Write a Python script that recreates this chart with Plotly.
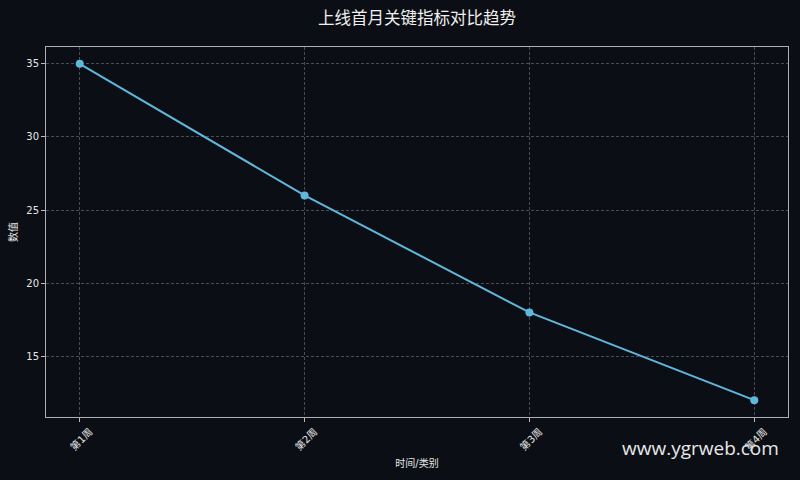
import plotly.graph_objects as go

# 数据
weeks = ["第1周", "第2周", "第3周", "第4周"]
values = [35, 26, 18, 12]

BG = "#0b0e14"
FONT = "DejaVu Sans, Noto Sans CJK SC, sans-serif"

fig = go.Figure()

fig.add_trace(go.Scatter(
    x=list(range(len(weeks))),
    y=values,
    mode="lines+markers",
    line=dict(color="#5fb8dc", width=2),
    marker=dict(size=8, color="#5fb8dc"),
    showlegend=False,
))

fig.update_layout(
    width=800,
    height=480,
    paper_bgcolor=BG,
    plot_bgcolor=BG,
    font=dict(family=FONT, color="#e6e6e6", size=10),
    margin=dict(l=46, r=12, t=47, b=63),
    title=dict(
        text="上线首月关键指标对比趋势",
        xref="paper", x=0.5, xanchor="center",
        y=0.962, yanchor="middle",
        font=dict(family="Noto Sans CJK SC, sans-serif", size=16.5, color="#f0f0f0"),
    ),
    xaxis=dict(
        range=[-0.15, 3.15],
        tickmode="array",
        tickvals=list(range(len(weeks))),
        ticktext=weeks,
        tickangle=-45,
        ticklabelshift=10,
        ticks="outside", ticklen=4, tickcolor="#bbbbbb",
        showgrid=True, gridcolor="#4a4d55", griddash="3px,2px", gridwidth=1,
        showline=True, linecolor="#b0b0b0", linewidth=1, mirror=True,
        zeroline=False,
        title=dict(text="时间/类别", font=dict(size=10), standoff=8),
    ),
    yaxis=dict(
        range=[10.85, 36.15],
        tickvals=[15, 20, 25, 30, 35],
        ticks="outside", ticklen=4, tickcolor="#bbbbbb",
        showgrid=True, gridcolor="#4a4d55", griddash="3px,2px", gridwidth=1,
        showline=True, linecolor="#b0b0b0", linewidth=1, mirror=True,
        zeroline=False,
        title=dict(text="数值", font=dict(size=10), standoff=6),
    ),
)

# 水印
fig.add_annotation(
    text="www.ygrweb.com",
    xref="paper", yref="paper",
    x=0.99, y=-0.085, xanchor="right", yanchor="middle",
    showarrow=False,
    font=dict(family="Open Sans, Noto Sans, sans-serif", size=19, color="#e8e8e8"),
)

fig.write_html(
    "out.html",
    config={"displayModeBar": False},
    post_script="document.body.style.margin='0';document.body.style.background='#0b0e14';",
)
